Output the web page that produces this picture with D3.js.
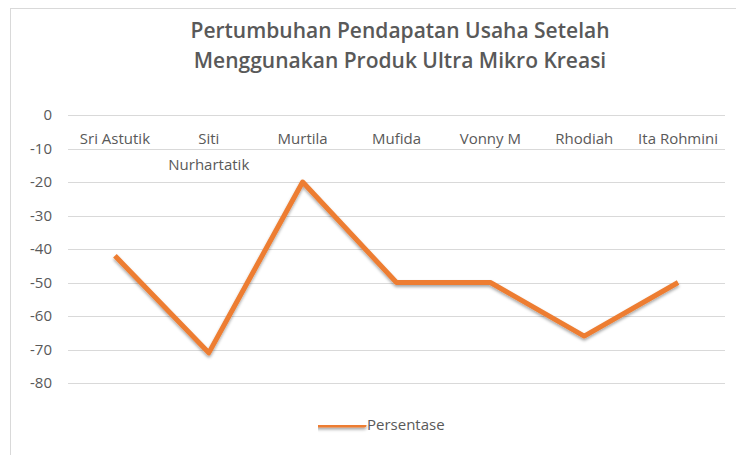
<!DOCTYPE html>
<html>
<head>
<meta charset="utf-8">
<script src="https://cdn.jsdelivr.net/npm/d3@7"></script>
<style>
  body { margin: 0; background: #fff; }
  text { font-family: "Open Sans", "Noto Sans", sans-serif; fill: #595959; }
</style>
</head>
<body>
<div id="chart"></div>
<script>
// data
var categories = ["Sri Astutik", "Siti Nurhartatik", "Murtila", "Mufida", "Vonny M", "Rhodiah", "Ita Rohmini"];
var persentase = [-42, -71, -20, -50, -50, -66, -50];
var yTicks = [0, -10, -20, -30, -40, -50, -60, -70, -80];
var seriesName = "Persentase";
var titleLines = ["Pertumbuhan Pendapatan Usaha Setelah", "Menggunakan Produk Ultra Mikro Kreasi"];

var WIDTH = 736, HEIGHT = 455;
var margin = { left: 68, right: 11, top: 115, bottom: 71 };
var width = WIDTH - margin.left - margin.right;
var height = HEIGHT - margin.top - margin.bottom;

var svg = d3.select("#chart").append("svg")
    .attr("width", WIDTH)
    .attr("height", HEIGHT);

var defs = svg.append("defs");
var f = defs.append("filter").attr("id", "shadow")
    .attr("filterUnits", "userSpaceOnUse")
    .attr("x", 0).attr("y", 0).attr("width", WIDTH).attr("height", HEIGHT);
f.append("feDropShadow").attr("dx", 0).attr("dy", 2).attr("stdDeviation", 1.5)
    .attr("flood-color", "#000").attr("flood-opacity", 0.35);

// chart frame
svg.append("rect")
    .attr("x", 10.5).attr("y", 8.5)
    .attr("width", 740).attr("height", 460)
    .attr("fill", "none").attr("stroke", "#d9d9d9");

// title
svg.append("g").selectAll("text")
    .data(titleLines)
    .enter().append("text")
    .attr("x", 400)
    .attr("y", function(d, i) { return 38 + i * 30; })
    .attr("text-anchor", "middle")
    .style("font-size", "21px")
    .style("font-weight", 600)
    .text(function(d) { return d; });

var g = svg.append("g")
    .attr("transform", "translate(" + margin.left + "," + margin.top + ")");

var xScale = d3.scaleBand().domain(categories).range([0, width]);
var yScale = d3.scaleLinear().domain([0, -80]).range([0, 268]);

// gridlines
g.append("g").selectAll("line")
    .data(yTicks)
    .enter().append("line")
    .attr("x1", 0).attr("x2", width)
    .attr("y1", function(d) { return Math.round(yScale(d)) + 0.5; })
    .attr("y2", function(d) { return Math.round(yScale(d)) + 0.5; })
    .attr("stroke", "#d9d9d9")
    .attr("stroke-width", 1);

// y axis labels
var yAxis = d3.axisLeft(yScale).tickValues(yTicks).tickSize(0).tickPadding(16)
    .tickFormat(function(d) { return String(d); });
var ya = g.append("g").call(yAxis);
ya.select(".domain").remove();
ya.selectAll("text")
    .style("font-size", "15px")
    .style("fill", "#595959")
    .style("font-family", "'Open Sans', sans-serif");

// category labels (near the 0 line, wrapped)
var xl = g.append("g").selectAll("text")
    .data(categories)
    .enter().append("text")
    .attr("x", function(d) { return xScale(d) + xScale.bandwidth() / 2; })
    .attr("y", 29)
    .attr("text-anchor", "middle")
    .style("font-size", "15px");
xl.each(function(d) {
    var t = d3.select(this);
    var words = d.split(" ");
    if (d.length > 12) {
        words.forEach(function(w, i) {
            t.append("tspan").attr("x", t.attr("x")).attr("dy", i === 0 ? 0 : 26).text(w);
        });
    } else {
        t.text(d);
    }
});

// line
var line = d3.line()
    .x(function(d, i) { return xScale(categories[i]) + xScale.bandwidth() / 2; })
    .y(function(d) { return yScale(d); });

g.append("path")
    .datum(persentase)
    .attr("d", line)
    .attr("fill", "none")
    .attr("stroke", "#ed7d31")
    .attr("stroke-width", 5)
    .attr("stroke-linejoin", "round")
    .attr("filter", "url(#shadow)");

// legend
var leg = svg.append("g").attr("transform", "translate(318,425)");
leg.append("line")
    .attr("x1", 0).attr("x2", 46)
    .attr("y1", 0).attr("y2", 0)
    .attr("stroke", "#ed7d31")
    .attr("stroke-width", 5)
    .attr("stroke-linecap", "round")
    .attr("filter", "url(#shadow)");
leg.append("text")
    .attr("x", 49).attr("y", 0)
    .attr("dy", "0.35em")
    .style("font-size", "15px")
    .text(seriesName);
</script>
</body>
</html>
